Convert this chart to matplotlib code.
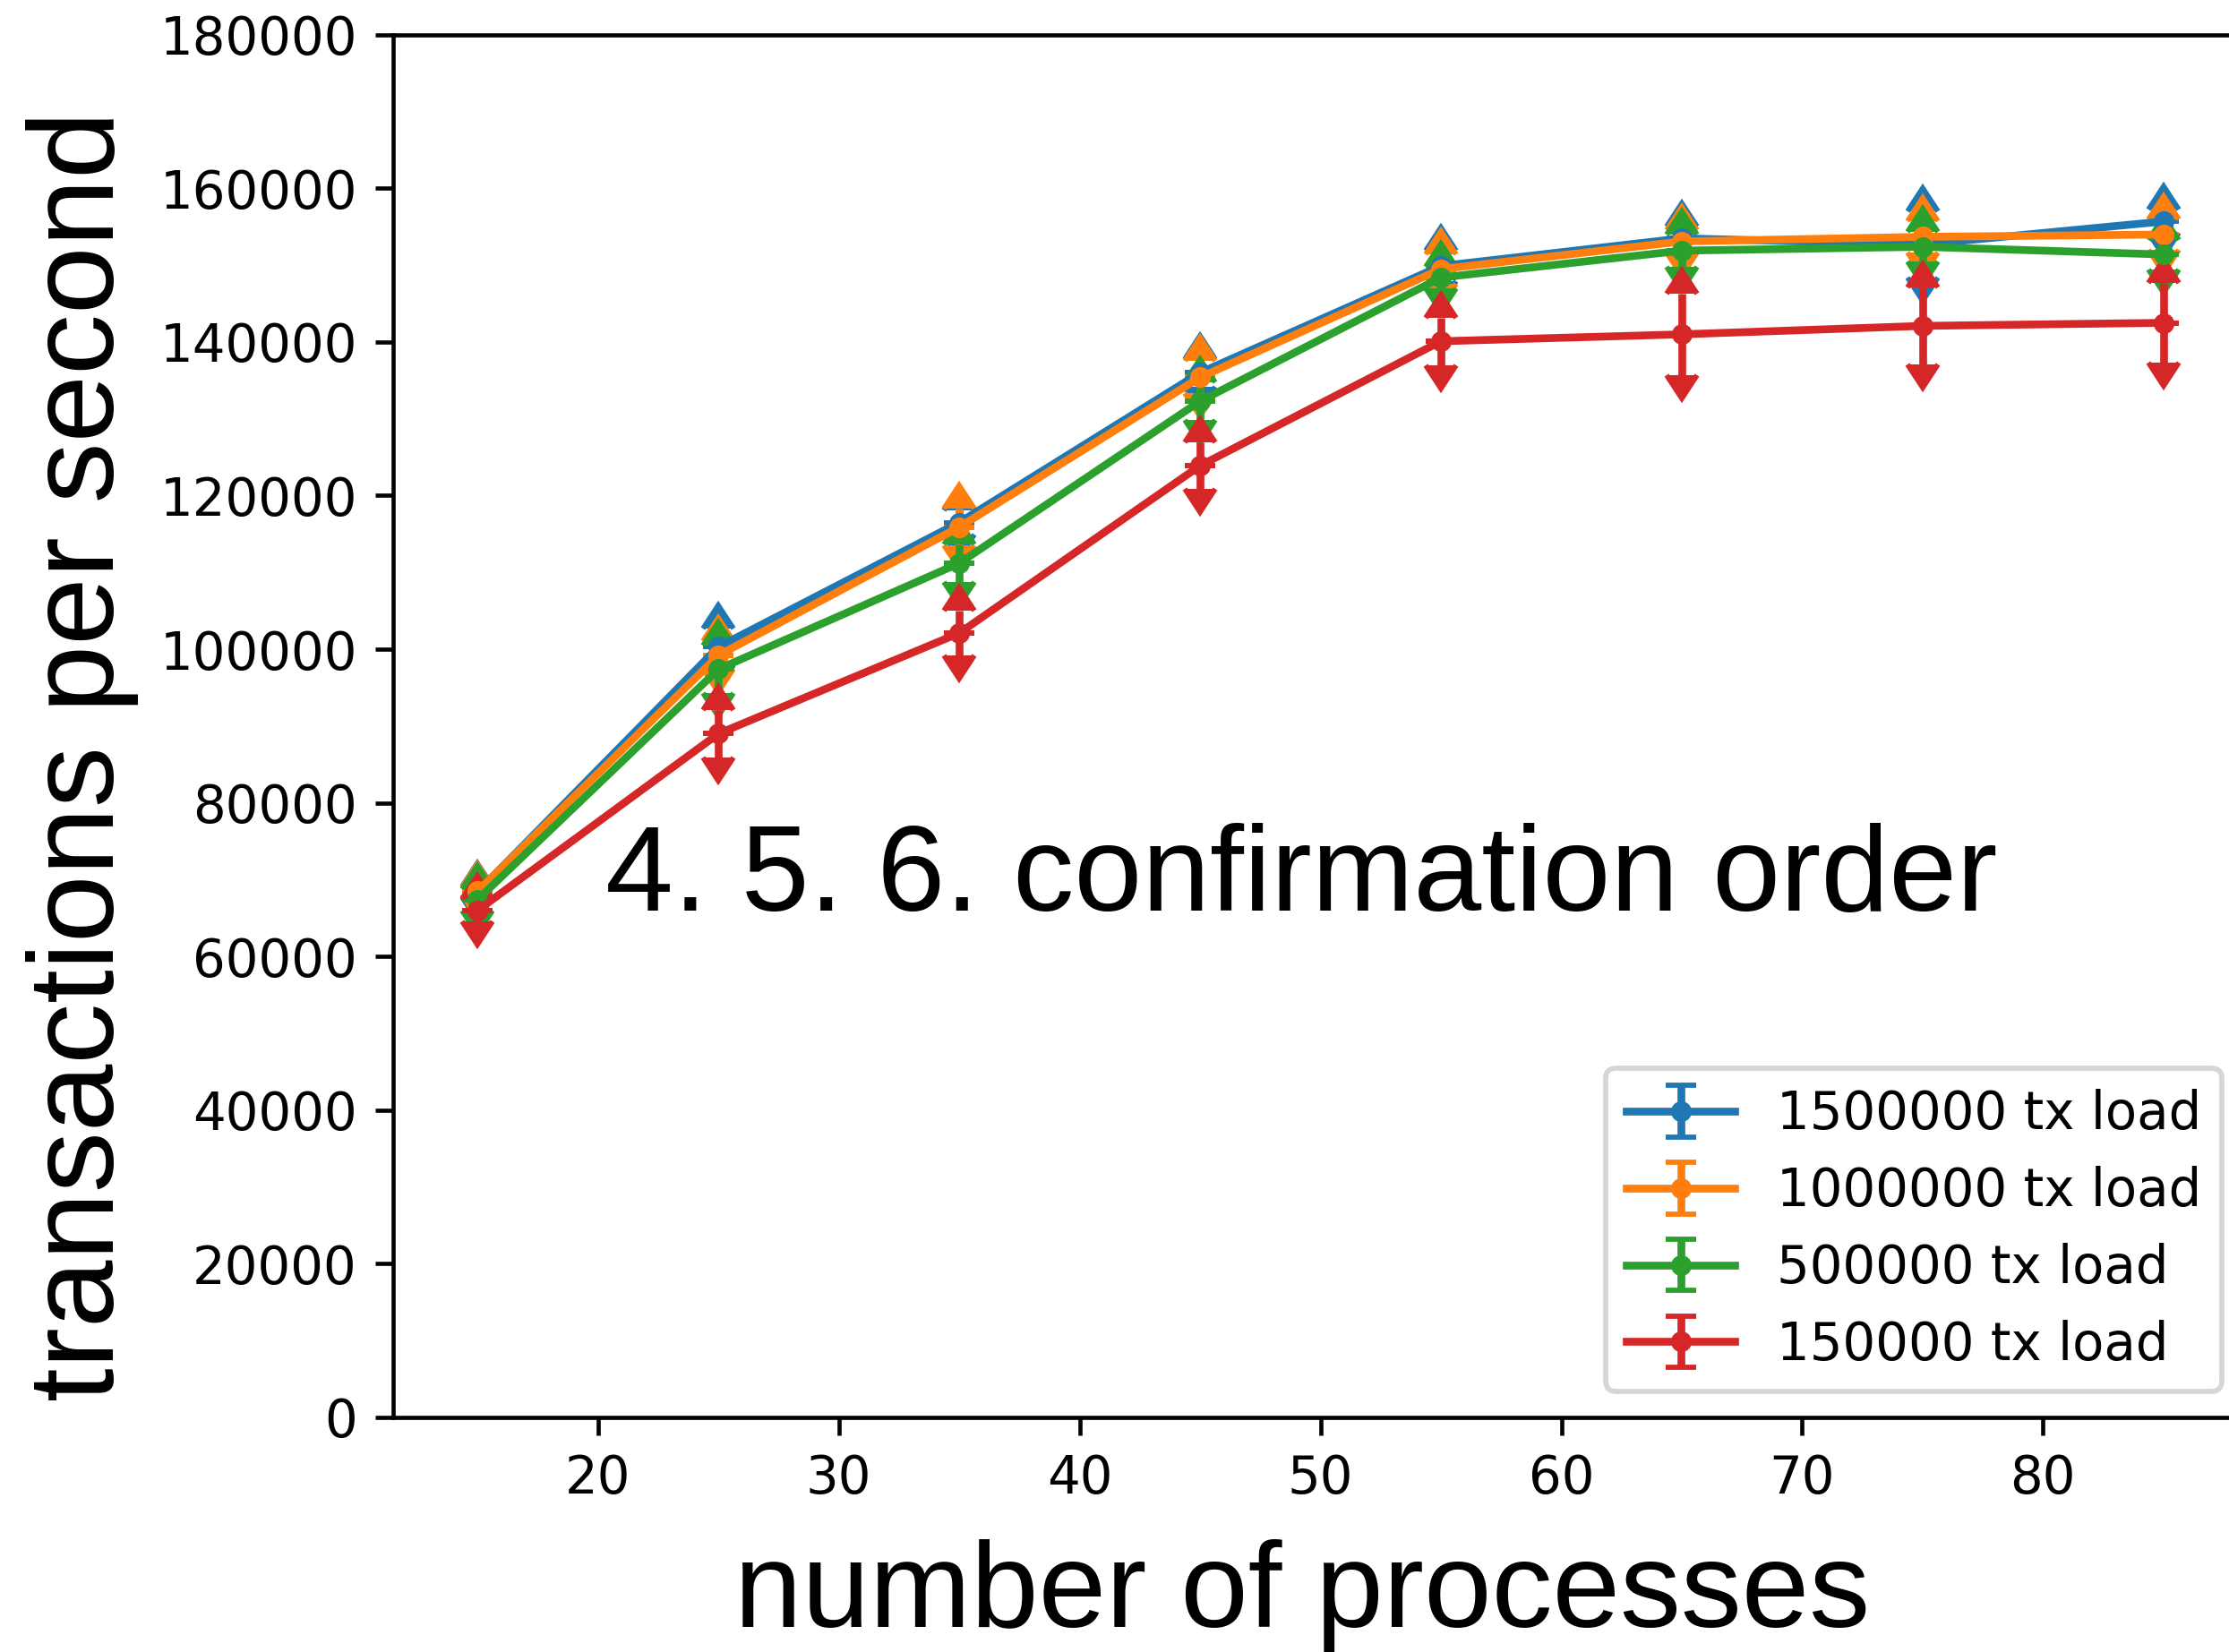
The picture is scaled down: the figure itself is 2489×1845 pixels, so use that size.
import matplotlib
matplotlib.use("Agg")
import matplotlib.pyplot as plt

# number of processes
processes = [15, 25, 35, 45, 55, 65, 75, 85]

# transactions per second (mean) and error per load
tps_1500k = [68400, 100300, 116500, 136000, 149900, 153500, 152700, 155700]
err_1500k = [700, 2400, 1600, 1800, 2000, 1500, 4300, 1500]

tps_1000k = [68500, 99200, 115900, 135400, 149500, 153100, 153700, 154000]
err_1000k = [500, 1800, 2400, 2100, 1950, 1500, 2000, 1950]

tps_500k = [67400, 97400, 111200, 132300, 148400, 151900, 152400, 151400]
err_500k = [1400, 3100, 2500, 2450, 1350, 2100, 1950, 1900]

tps_150k = [66000, 89000, 102100, 123900, 140100, 141000, 142100, 142500]
err_150k = [1500, 3100, 2900, 3000, 3100, 5300, 5000, 5200]

series = [
    ("1500000 tx load", tps_1500k, err_1500k, "C0"),
    ("1000000 tx load", tps_1000k, err_1000k, "C1"),
    ("500000 tx load", tps_500k, err_500k, "C2"),
    ("150000 tx load", tps_150k, err_150k, "C3"),
]

DPI = 416
fig = plt.figure(figsize=(2489 / DPI, 1845 / DPI), dpi=DPI)
ax = fig.add_axes([0.1765, 0.1422, 0.8319, 0.8367])

for label, y, err, color in series:
    # upper half with arrow pointing up
    ax.errorbar(processes, y, yerr=err, lolims=True, fmt='.-', color=color,
                capsize=3, label=label)
    # lower half with arrow pointing down
    ax.errorbar(processes, y, yerr=err, uplims=True, fmt='none', color=color,
                capsize=3)

ax.set_ylim(0, 180000)
ax.set_xlim(11.5, 88.5)

ax.set_xlabel('number of processes', fontsize=23.5, family='Liberation Sans',
              x=0.49, labelpad=6.7)
ax.set_ylabel('transactions per second', fontsize=23.5, family='Liberation Sans',
              y=0.478)

ax.text(20.3, 66000, '4. 5. 6. confirmation order', fontsize=23.6,
        family='Liberation Sans')

ax.legend(loc='lower right', handlelength=2.1)

fig.savefig('out.png', dpi=DPI)
